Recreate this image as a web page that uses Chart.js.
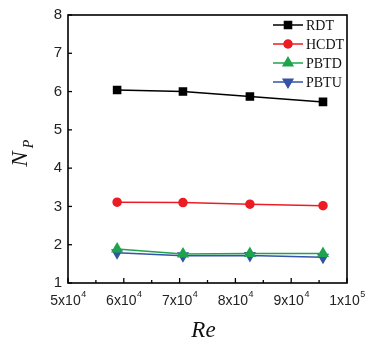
<!DOCTYPE html>
<html><head><meta charset="utf-8">
<script src="https://cdn.jsdelivr.net/npm/chart.js@4/dist/chart.umd.min.js"></script>
<style>html,body{margin:0;padding:0;background:#fff}#wrap{width:371px;height:344px}</style>
</head><body><div id="wrap"><canvas id="c" width="371" height="344"></canvas></div>
<script>
const re = [58800, 70600, 82600, 95700];
const rdt = [6.04, 6.00, 5.87, 5.73];
const hcdt = [3.11, 3.10, 3.06, 3.02];
const pbtd = [1.89, 1.76, 1.77, 1.77];
const pbtu = [1.79, 1.71, 1.72, 1.67];
const seriesNames = ['RDT', 'HCDT', 'PBTD', 'PBTU'];
const xTickMantissas = ['5', '6', '7', '8', '9', '1'];
const xTickExponents = ['4', '4', '4', '4', '4', '5'];

const colors = ['#000000', '#ec1c24', '#1ea44b', '#3553a8'];
const styles = ['rect', 'circle', 'triangle', 'triangle'];
const rots = [0, 0, 0, 180];
const radii = [5, 4, 5.5, 5.5];
const vals = [rdt, hcdt, pbtd, pbtu];

const datasets = vals.map((v, i) => ({
  label: seriesNames[i],
  data: v.map((y, k) => ({x: re[k], y})),
  borderColor: colors[i], backgroundColor: colors[i],
  borderWidth: 1.5, pointStyle: styles[i], pointRotation: rots[i],
  pointRadius: radii[i], pointHoverRadius: radii[i], tension: 0
}));

const framePlugin = {
  id: 'frame',
  afterDraw(chart) {
    const ctx = chart.ctx, a = chart.chartArea;
    const xs = chart.scales.x, ys = chart.scales.y;
    ctx.save();
    ctx.strokeStyle = '#000'; ctx.lineWidth = 1.6;
    ctx.strokeRect(a.left, a.top, a.right - a.left, a.bottom - a.top);
    ctx.lineWidth = 1.3;
    ys.ticks.forEach(t => {
      const y = ys.getPixelForValue(t.value);
      ctx.beginPath(); ctx.moveTo(a.left, y); ctx.lineTo(a.left + 4, y); ctx.stroke();
    });
    xs.ticks.forEach((t, i) => {
      const x = xs.getPixelForValue(t.value);
      ctx.beginPath(); ctx.moveTo(x, a.bottom); ctx.lineTo(x, a.bottom - 5); ctx.stroke();
      if (i < xs.ticks.length - 1) {
        const xm = xs.getPixelForValue(t.value + 5000);
        ctx.beginPath(); ctx.moveTo(xm, a.bottom); ctx.lineTo(xm, a.bottom - 3); ctx.stroke();
      }
    });
    ctx.fillStyle = '#222';
    xs.ticks.forEach((t, i) => {
      const x = xs.getPixelForValue(t.value);
      const base = xTickMantissas[i] + 'x10';
      const sup = xTickExponents[i];
      ctx.font = '14px "Liberation Sans", Arial, sans-serif';
      const w1 = ctx.measureText(base).width;
      ctx.font = '9px "Liberation Sans", Arial, sans-serif';
      const w2 = ctx.measureText(sup).width;
      const x0 = x - (w1 + w2) / 2;
      ctx.textBaseline = 'alphabetic'; ctx.textAlign = 'left';
      ctx.font = '14px "Liberation Sans", Arial, sans-serif';
      ctx.fillText(base, x0, a.bottom + 22);
      ctx.font = '9px "Liberation Sans", Arial, sans-serif';
      ctx.fillText(sup, x0 + w1 + 0.5, a.bottom + 14);
    });
    ctx.fillStyle = '#111';
    ctx.font = 'italic 23px "Liberation Serif", "Times New Roman", serif';
    ctx.textAlign = 'center';
    ctx.fillText('Re', (a.left + a.right) / 2 - 4, 337);
    ctx.save();
    ctx.translate(27, (a.top + a.bottom) / 2 + 4);
    ctx.rotate(-Math.PI / 2);
    ctx.textAlign = 'left';
    ctx.font = 'italic 23px "Liberation Serif", "Times New Roman", serif';
    const wn = ctx.measureText('N').width;
    ctx.fillText('N', -wn / 2 - 6, 0);
    ctx.font = 'italic 14px "Liberation Serif", "Times New Roman", serif';
    ctx.fillText('P', wn / 2 - 3, 6);
    ctx.restore();
    const lx = a.right - 74, ly = a.top + 10;
    datasets.forEach((d, i) => {
      const y = ly + i * 19;
      ctx.strokeStyle = d.borderColor; ctx.lineWidth = 1.5;
      ctx.beginPath(); ctx.moveTo(lx, y); ctx.lineTo(lx + 30, y); ctx.stroke();
      Chart.helpers.drawPoint(ctx, {pointStyle: d.pointStyle, rotation: d.pointRotation, radius: d.pointRadius, borderWidth: 1}, lx + 15, y);
      ctx.fillStyle = d.borderColor;
      ctx.fill();
      ctx.fillStyle = '#111';
      ctx.font = '14px "Liberation Serif", "Times New Roman", serif';
      ctx.textAlign = 'left'; ctx.textBaseline = 'middle';
      ctx.fillText(d.label, lx + 33, y + 1);
    });
    ctx.restore();
  }
};

new Chart(document.getElementById('c'), {
  type: 'line',
  data: {datasets},
  options: {
    responsive: false, animation: false, devicePixelRatio: 1,
    layout: {padding: {left: 0, right: 24, top: 9, bottom: 0}},
    plugins: {legend: {display: false}, tooltip: {enabled: false}},
    scales: {
      x: {type: 'linear', min: 50000, max: 100000,
        ticks: {stepSize: 10000, display: false},
        grid: {display: false, drawTicks: false}, border: {display: false},
        afterFit(s) { s.height = 61; }},
      y: {min: 1, max: 8,
        ticks: {stepSize: 1, padding: 6, color: '#222', font: {family: '"Liberation Sans", Arial, sans-serif', size: 15}},
        grid: {display: false, drawTicks: false}, border: {display: false},
        afterFit(s) { s.width = 68; }}
    }
  },
  plugins: [framePlugin]
});
</script></body></html>
